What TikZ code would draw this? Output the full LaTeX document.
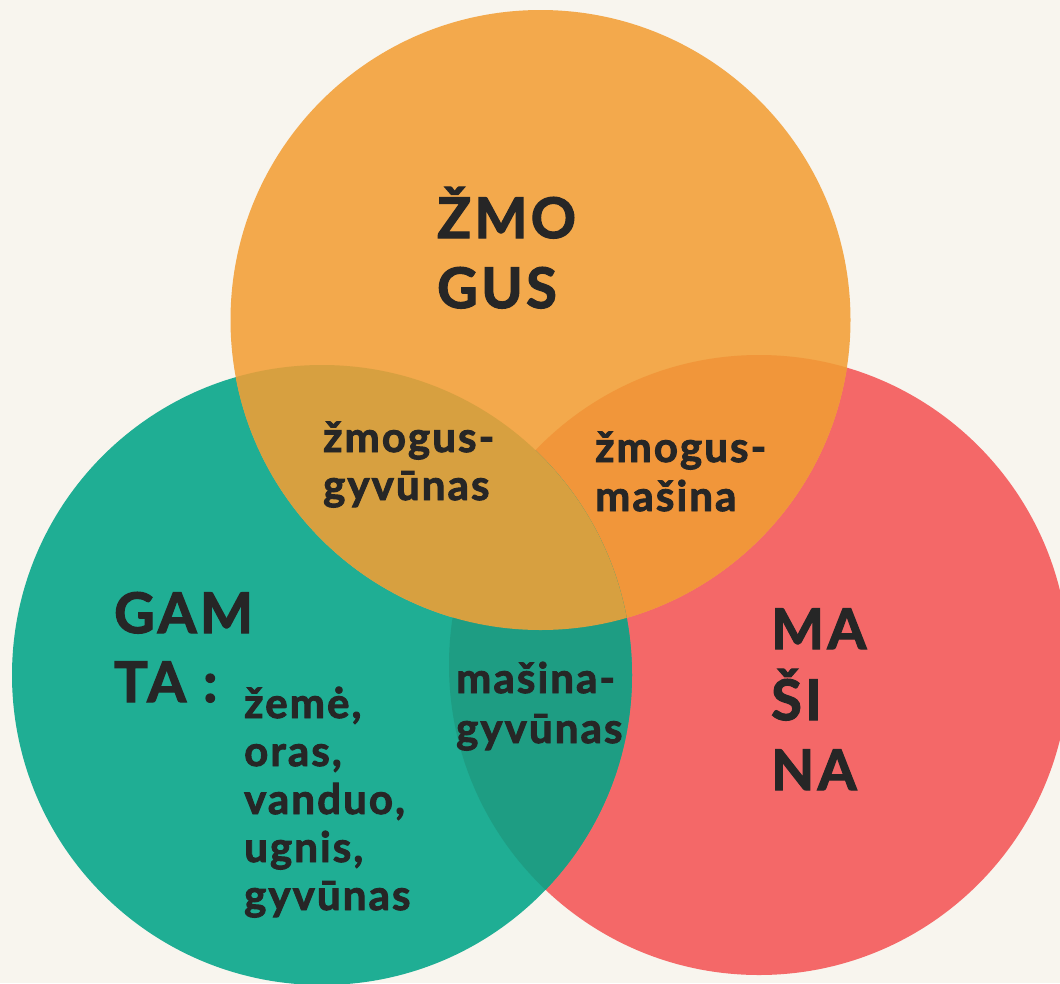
\documentclass[tikz,border=0pt]{standalone}
\usepackage{fontspec}
\setmainfont{Lato}
\newfontfamily\bigfam{Lato}[BoldFeatures={LetterSpace=6,FakeBold=2.2}]
\newfontfamily\smallfam{Lato}[BoldFeatures={LetterSpace=5,FakeBold=2.2}]
\definecolor{bgc}{HTML}{F8F5EE}
\definecolor{orangec}{HTML}{F3A94C}
\definecolor{tealc}{HTML}{1FAE94}
\definecolor{redc}{HTML}{F46868}
\definecolor{otc}{HTML}{D7A040}
\definecolor{orc}{HTML}{F1963A}
\definecolor{trc}{HTML}{1E9D83}
\definecolor{txt}{HTML}{262626}
\tikzset{
  big/.style={font=\bigfam\fontsize{56}{56}\selectfont\bfseries, text=txt, anchor=base west, inner sep=0pt},
  small/.style={font=\smallfam\fontsize{42}{42}\selectfont\bfseries, text=txt, anchor=base west, inner sep=0pt},
}
\begin{document}
\begin{tikzpicture}[x=1pt,y=-1pt]
\fill[bgc] (0,0) rectangle (1060,983);
\useasboundingbox (0,0) rectangle (1060,983);
\begin{scope}
\clip (0,0) rectangle (1060,983);
\coordinate (O) at (540.5,320);
\coordinate (T) at (322,675);
\coordinate (R) at (759,665);
\def\rr{310}
\fill[redc] (R) circle[radius=\rr];
\fill[tealc] (T) circle[radius=\rr];
\fill[orangec] (O) circle[radius=\rr];
\begin{scope}
\clip (R) circle[radius=\rr];
\fill[orc] (O) circle[radius=\rr];
\end{scope}
\begin{scope}
\clip (T) circle[radius=\rr];
\fill[trc] (R) circle[radius=\rr];
\fill[otc] (O) circle[radius=\rr];
\end{scope}
\end{scope}
% labels
\node[big] (zm1) at (437,238) {ŽMO};
\node[big] (zm2) at (437,308) {GUS};
\node[big] (ga1) at (114,633) {GAM};
\node[big] (ga2) at (114,702) {TA :};
\node[big] (ma1) at (771,649) {MA};
\node[big] (ma2) at (771,720) {ŠI};
\node[big] (ma3) at (771,790) {NA};
\node[small] (zg1) at (323,452) {žmogus-};
\node[small] (zg2) at (323,500) {gyvūnas};
\node[small] (zs1) at (595,462) {žmogus-};
\node[small] (zs2) at (595,511) {mašina};
\node[small] (mg1) at (456,693) {mašina-};
\node[small] (mg2) at (456,743) {gyvūnas};
\node[small] (l1) at (244,718) {žemė,};
\node[small] (l2) at (244,766) {oras,};
\node[small] (l3) at (244,814) {vanduo,};
\node[small] (l4) at (244,862) {ugnis,};
\node[small] (l5) at (244,910) {gyvūnas};
\end{tikzpicture}
\end{document}
